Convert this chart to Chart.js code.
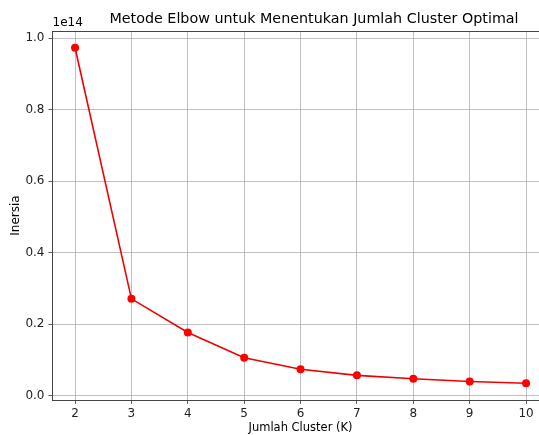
<!DOCTYPE html>
<html>
<head>
<meta charset="utf-8">
<script src="https://cdn.jsdelivr.net/npm/chart.js@4/dist/chart.umd.min.js"></script>
<style>
  html, body { margin: 0; padding: 0; background: #fff; overflow: hidden; }
  #wrap { width: 539px; height: 435px; overflow: hidden; position: relative; }
  canvas { display: block; }
</style>
</head>
<body>
<div id="wrap"><canvas id="grafikElbow" width="560" height="435"></canvas></div>
<script>
// data dari gambar (inersia dalam satuan 1e14)
const jumlahCluster = [2, 3, 4, 5, 6, 7, 8, 9, 10];
const inersia = [0.973e14, 0.271e14, 0.177e14, 0.106e14, 0.074e14, 0.057e14, 0.0475e14, 0.040e14, 0.035e14];
const xTicks = [2, 3, 4, 5, 6, 7, 8, 9, 10];
const yTicks = [0, 0.2e14, 0.4e14, 0.6e14, 0.8e14, 1.0e14];

const fontFam = "'DejaVu Sans', sans-serif";

// judul, teks offset "1e14" dan bingkai atas ala matplotlib
const teksTambahan = {
  id: "teksTambahan",
  afterDraw(chart) {
    const ctx = chart.ctx;
    const a = chart.chartArea;
    ctx.save();
    ctx.strokeStyle = "#444";
    ctx.lineWidth = 1;
    ctx.strokeRect(a.left, a.top + 0.5, a.right - a.left, a.bottom - a.top);
    ctx.fillStyle = "#000";
    ctx.textBaseline = "middle";
    ctx.font = "14.3px " + fontFam;
    ctx.textAlign = "center";
    ctx.fillText("Metode Elbow untuk Menentukan Jumlah Cluster Optimal", 314, 19);
    ctx.font = "12px " + fontFam;
    ctx.textAlign = "left";
    ctx.fillText("1e14", a.left, 23);
    ctx.restore();
  }
};

const ctx = document.getElementById("grafikElbow");
new Chart(ctx, {
  type: "line",
  data: {
    datasets: [{
      label: "Inersia",
      data: jumlahCluster.map((k, i) => ({ x: k, y: inersia[i] })),
      borderColor: "#f00000",
      backgroundColor: "#ff0000",
      borderWidth: 1.6,
      pointRadius: 4,
      pointHoverRadius: 4,
      pointBorderWidth: 0,
      tension: 0
    }]
  },
  options: {
    responsive: false,
    animation: false,
    layout: { padding: { top: 31, right: 11.4, bottom: 0, left: 0 } },
    plugins: {
      legend: { display: false },
      tooltip: { enabled: false }
    },
    scales: {
      x: {
        type: "linear",
        min: 1.6,
        max: 10.4,
        afterBuildTicks: s => { s.ticks = xTicks.map(v => ({ value: v })); },
        afterFit: s => { s.height = 35; },
        grid: { color: "#b0b0b0", lineWidth: 0.8, tickLength: 4, tickColor: "#333" },
        border: { color: "#444", width: 1 },
        ticks: { color: "#222", font: { family: fontFam, size: 12 }, padding: 3, maxRotation: 0 },
        title: { display: true, text: "Jumlah Cluster (K)", color: "#000", font: { family: fontFam, size: 11.5 }, padding: { top: 0, bottom: 0 } }
      },
      y: {
        type: "linear",
        min: -0.0119e14,
        max: 1.0199e14,
        afterBuildTicks: s => { s.ticks = yTicks.map(v => ({ value: v })); },
        afterFit: s => { s.width = 52.5; },
        grid: { color: "#b0b0b0", lineWidth: 0.8, tickLength: 4, tickColor: "#333" },
        border: { color: "#444", width: 1 },
        ticks: {
          color: "#222",
          font: { family: fontFam, size: 12 },
          padding: 4,
          callback: v => (v / 1e14).toFixed(1)
        },
        title: { display: true, text: "Inersia", color: "#000", font: { family: fontFam, size: 12 }, padding: { top: 9, bottom: 0 } }
      }
    }
  },
  plugins: [teksTambahan]
});
</script>
</body>
</html>
